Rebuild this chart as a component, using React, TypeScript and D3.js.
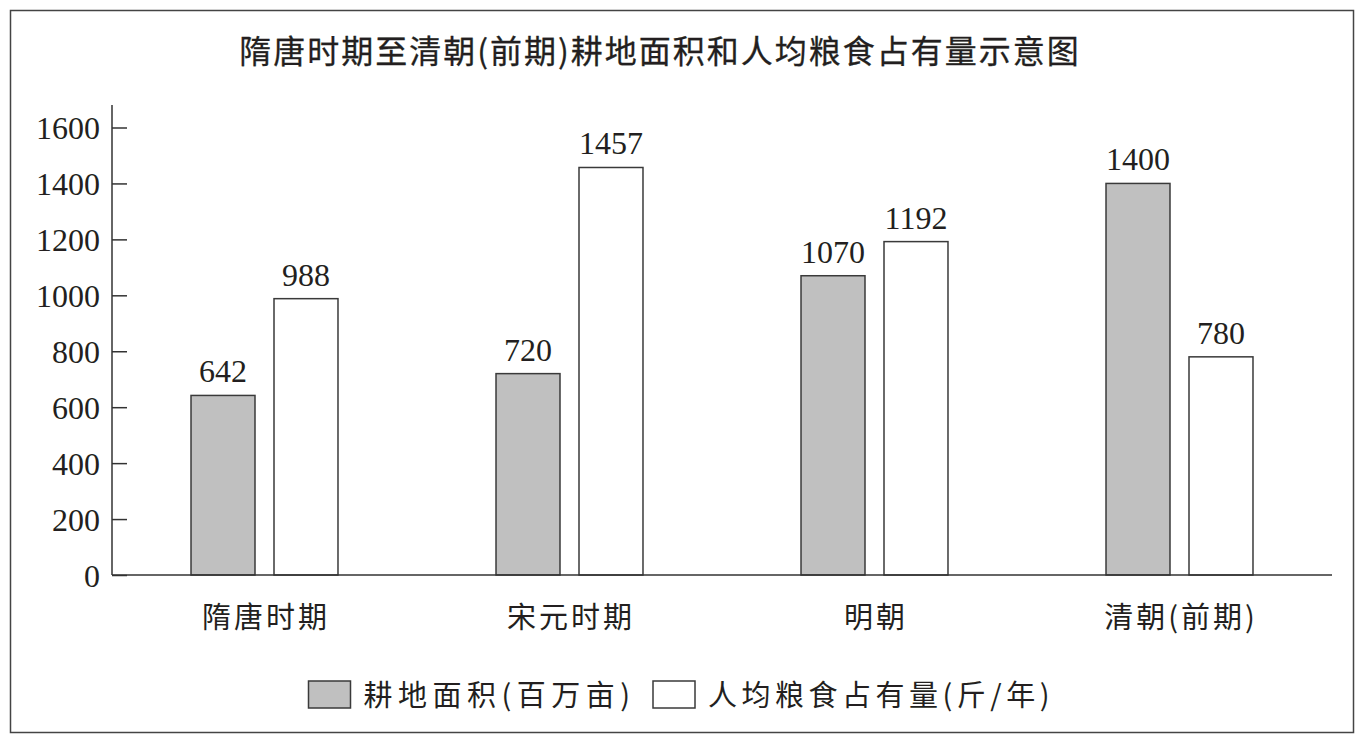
import { useEffect, useRef } from 'react';
import * as d3 from 'd3';

const categories = ['隋唐时期', '宋元时期', '明朝', '清朝(前期)'];
const seriesNames = ['耕地面积(百万亩)', '人均粮食占有量(斤/年)'];
const farmland = [642, 720, 1070, 1400];
const grainPerCapita = [988, 1457, 1192, 780];
const yTicks = [0, 200, 400, 600, 800, 1000, 1200, 1400, 1600];
const title = '隋唐时期至清朝(前期)耕地面积和人均粮食占有量示意图';

const seriesColors = ['#c0c0c0', '#ffffff'];
const ink = '#231f20';
const cjk = '"Noto Sans CJK SC", sans-serif';
const serif = '"Liberation Serif", "Times New Roman", serif';

export default function App() {
  const svgRef = useRef<SVGSVGElement>(null);
  const width = 1368;
  const height = 745;

  useEffect(() => {
    if (!svgRef.current) return;
    const svg = d3.select(svgRef.current);
    svg.selectAll('*').remove();

    const margin = { top: 105, left: 112, right: 1332, bottom: 575 };

    // outer frame
    svg.append('rect')
      .attr('x', 10.5).attr('y', 10.5)
      .attr('width', 1343).attr('height', 722)
      .attr('fill', 'none')
      .attr('stroke', '#444')
      .attr('stroke-width', 1.5);

    // title (regular weight thickened a little with a stroke)
    svg.append('text')
      .attr('x', 660)
      .attr('y', 63)
      .attr('text-anchor', 'middle')
      .style('font-family', cjk)
      .style('font-size', '32px')
      .style('letter-spacing', '2px')
      .attr('fill', ink)
      .attr('stroke', ink)
      .attr('stroke-width', 0.3)
      .text(title);

    const x0 = d3.scaleBand<string>()
      .domain(categories)
      .range([margin.left, margin.right]);

    const x1 = d3.scaleBand<number>()
      .domain([0, 1])
      .range([0, x0.bandwidth()])
      .paddingInner(0.229)
      .paddingOuter(0.952);

    const y = d3.scaleLinear()
      .domain([0, 1600])
      .range([margin.bottom, 127.5]);

    // y axis, ticks point inward
    const yAxis = svg.append('g')
      .attr('transform', `translate(${margin.left},0)`)
      .call(
        d3.axisLeft(y)
          .tickValues(yTicks)
          .tickFormat(d3.format('d'))
          .tickSizeInner(-15)
          .tickSizeOuter(0)
          .tickPadding(12)
      );
    yAxis.select('.domain').remove();
    yAxis.selectAll('line').attr('stroke', '#333').attr('stroke-width', 1.5);
    yAxis.selectAll('text')
      .attr('dy', null)
      .attr('y', 11)
      .attr('fill', ink)
      .style('font-family', serif)
      .style('font-size', '32px');

    svg.append('line')
      .attr('x1', margin.left).attr('x2', margin.left)
      .attr('y1', margin.top).attr('y2', margin.bottom)
      .attr('stroke', '#333').attr('stroke-width', 1.5);

    const values = [farmland, grainPerCapita];

    // bars + value labels
    categories.forEach((cat, i) => {
      const g = svg.append('g').attr('transform', `translate(${x0(cat)},0)`);
      values.forEach((series, s) => {
        const v = series[i];
        const bx = x1(s) || 0;
        g.append('rect')
          .attr('x', bx)
          .attr('y', y(v))
          .attr('width', x1.bandwidth())
          .attr('height', y(0) - y(v))
          .attr('fill', seriesColors[s])
          .attr('stroke', '#3a3a3a')
          .attr('stroke-width', 1.5);
        g.append('text')
          .attr('x', bx + x1.bandwidth() / 2)
          .attr('y', y(v) - 13)
          .attr('text-anchor', 'middle')
          .attr('fill', ink)
          .style('font-family', serif)
          .style('font-size', '32px')
          .text(v);
      });
      // category label
      svg.append('text')
        .attr('x', (x0(cat) || 0) + x0.bandwidth() / 2 + 1.5)
        .attr('y', 628)
        .attr('text-anchor', 'middle')
        .attr('fill', ink)
        .style('font-family', cjk)
        .style('font-size', '29px')
        .style('letter-spacing', '3px')
        .text(cat);
    });

    // x axis
    svg.append('line')
      .attr('x1', margin.left).attr('x2', margin.right)
      .attr('y1', y(0)).attr('y2', y(0))
      .attr('stroke', '#333').attr('stroke-width', 1.5);

    // legend
    const legendX = [308.5, 653];
    seriesNames.forEach((name, s) => {
      const lg = svg.append('g').attr('transform', `translate(${legendX[s]},681)`);
      lg.append('rect')
        .attr('width', 42).attr('height', 27)
        .attr('fill', seriesColors[s])
        .attr('stroke', '#3a3a3a')
        .attr('stroke-width', 1.5);
      lg.append('text')
        .attr('x', 55)
        .attr('y', 25)
        .attr('fill', ink)
        .style('font-family', cjk)
        .style('font-size', '29px')
        .style('letter-spacing', s === 0 ? '5.5px' : '4.5px')
        .text(name);
    });
  }, []);

  return (
    <svg
      ref={svgRef}
      width={width}
      height={height}
      style={{ position: 'absolute', left: 0, top: 0, background: '#fff' }}
    />
  );
}
